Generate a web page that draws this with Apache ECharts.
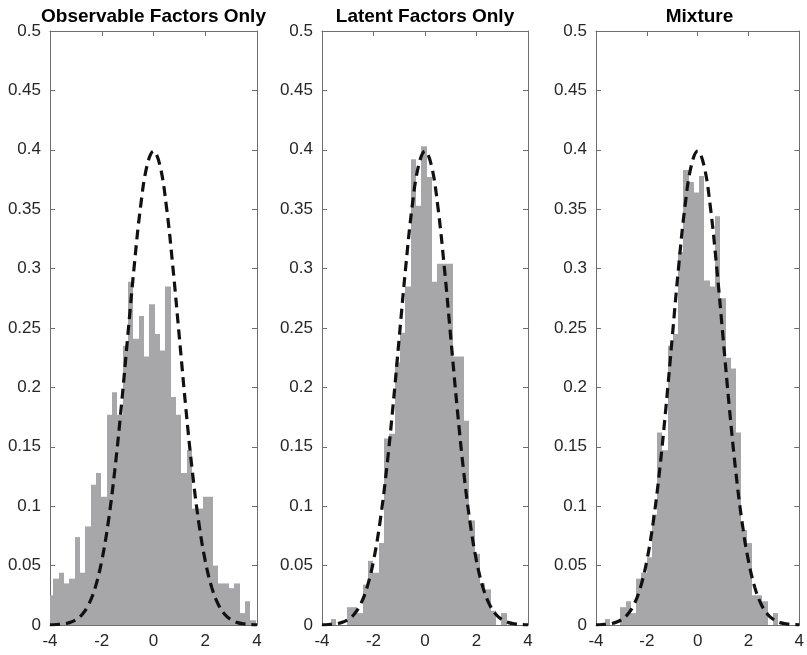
<!DOCTYPE html>
<html>
<head>
<meta charset="utf-8">
<script src="https://cdn.jsdelivr.net/npm/echarts@6/dist/echarts.min.js"></script>
<style>
  html, body { margin: 0; padding: 0; background: #ffffff; }
  #chart { width: 807px; height: 655px; }
</style>
</head>
<body>
<div id="chart"></div>
<script>
// Panel titles
const panelTitles = ['Observable Factors Only', 'Latent Factors Only', 'Mixture'];

// Axis ticks
const xTickValues = [-4, -2, 0, 2, 4];
const yTickValues = [0, 0.05, 0.1, 0.15, 0.2, 0.25, 0.3, 0.35, 0.4, 0.45, 0.5];

// Histogram of standardized estimates (pdf-normalized), observable factors only
const obsBinStart = -4.08;
const obsBinWidth = 0.206;
const obsHeights = [
  0.025, 0.039, 0.044, 0.035, 0.039, 0.074, 0.044, 0.083, 0.118, 0.128,
  0.108, 0.177, 0.196, 0.177, 0.235, 0.289, 0.241, 0.260, 0.226, 0.270,
  0.245, 0.231, 0.285, 0.192, 0.177, 0.128, 0.147, 0.098, 0.098, 0.108,
  0.108, 0.050, 0.035, 0.035, 0.031, 0.035, 0.010, 0.020, 0.004
];

// Latent factors only
const latBinStart = -3.664;
const latBinWidth = 0.207;
const latHeights = [
  0.005, 0, 0, 0.015, 0.015, 0.010, 0.034, 0.054, 0.044, 0.069,
  0.157, 0.161, 0.221, 0.246, 0.285, 0.392, 0.353, 0.403, 0.377, 0.289,
  0.304, 0.304, 0.304, 0.226, 0.226, 0.172, 0.088, 0.060, 0.035, 0.030,
  0.012, 0, 0.010
];

// Mixture of observable and latent factors
const mixBinStart = -3.664;
const mixBinWidth = 0.207;
const mixHeights = [
  0.005, 0, 0, 0.015, 0.020, 0.010, 0.039, 0.044, 0.057, 0.093,
  0.162, 0.147, 0.235, 0.245, 0.314, 0.383, 0.373, 0.364, 0.378, 0.290,
  0.285, 0.344, 0.275, 0.225, 0.216, 0.162, 0.080, 0.069, 0.025, 0.025,
  0.020, 0, 0.010
];

// Standard normal density reference curve
const curveX = [
  -4, -3.75, -3.5, -3.25, -3, -2.75, -2.5, -2.25, -2, -1.75, -1.5, -1.25, -1, -0.75, -0.5, -0.25,
  0, 0.25, 0.5, 0.75, 1, 1.25, 1.5, 1.75, 2, 2.25, 2.5, 2.75, 3, 3.25, 3.5, 3.75, 4
];
const curveY = [
  0.0001, 0.0004, 0.0009, 0.0020, 0.0044, 0.0091, 0.0175, 0.0317, 0.0540, 0.0863, 0.1295, 0.1826, 0.2420, 0.3011, 0.3521, 0.3867,
  0.3989, 0.3867, 0.3521, 0.3011, 0.2420, 0.1826, 0.1295, 0.0863, 0.0540, 0.0317, 0.0175, 0.0091, 0.0044, 0.0020, 0.0009, 0.0004, 0.0001
];

const panels = [
  { start: obsBinStart, width: obsBinWidth, heights: obsHeights },
  { start: latBinStart, width: latBinWidth, heights: latHeights },
  { start: mixBinStart, width: mixBinWidth, heights: mixHeights }
];

const FONT = "'Liberation Sans', Arial, Helvetica, sans-serif";
const BAR_COLOR = '#a7a7aa';
const AXIS_COLOR = '#6e6e6e';
const LABEL_COLOR = '#262626';

const gridLefts = [50, 322, 596];
const gridWidths = [207, 206, 207];
const gridTop = 31;
const gridHeight = 594;

// Each bin is a rectangle from [left, 0] to [right, height], snapped to whole pixels
// horizontally so neighbouring bins meet without seams.
function renderBin(params, api) {
  const x0 = api.value(0), x1 = api.value(1), h = api.value(2);
  if (!(h > 0)) return null;
  const p0 = api.coord([x0, h]);
  const p1 = api.coord([x1, 0]);
  const left = Math.round(p0[0]);
  const right = Math.round(p1[0]);
  const cs = params.coordSys;
  const rect = echarts.graphic.clipRectByRect(
    { x: left, y: p0[1], width: right - left, height: p1[1] - p0[1] },
    { x: cs.x, y: cs.y, width: cs.width, height: cs.height }
  );
  return rect && {
    type: 'rect',
    shape: rect,
    style: { fill: BAR_COLOR }
  };
}

const grids = [], xAxes = [], yAxes = [], series = [], graphics = [];
const xMin = xTickValues[0], xMax = xTickValues[xTickValues.length - 1];
const xStep = xTickValues[1] - xTickValues[0];
const yMin = yTickValues[0], yMax = yTickValues[yTickValues.length - 1];
const yStep = yTickValues[1] - yTickValues[0];

panels.forEach((p, i) => {
  grids.push({ left: gridLefts[i], width: gridWidths[i], top: gridTop, height: gridHeight });

  const axisLine = { show: true, onZero: false, lineStyle: { color: AXIS_COLOR, width: 1 } };
  const tick = { show: true, inside: true, length: 5, lineStyle: { color: AXIS_COLOR, width: 1 } };

  // bottom / top x axes
  xAxes.push({
    type: 'value', gridIndex: i, position: 'bottom', min: xMin, max: xMax, interval: xStep,
    axisLine, axisTick: tick, splitLine: { show: false },
    axisLabel: { show: true, color: LABEL_COLOR, fontSize: 17, fontFamily: FONT, margin: 8 }
  });
  xAxes.push({
    type: 'value', gridIndex: i, position: 'top', min: xMin, max: xMax, interval: xStep,
    axisLine, axisTick: tick, splitLine: { show: false }, axisLabel: { show: false }
  });
  // left / right y axes
  yAxes.push({
    type: 'value', gridIndex: i, position: 'left', min: yMin, max: yMax, interval: yStep,
    axisLine, axisTick: tick, splitLine: { show: false },
    axisLabel: {
      show: true, color: LABEL_COLOR, fontSize: 17, fontFamily: FONT, margin: 9,
      formatter: v => String(+v.toFixed(2))
    }
  });
  yAxes.push({
    type: 'value', gridIndex: i, position: 'right', min: yMin, max: yMax, interval: yStep,
    axisLine, axisTick: tick, splitLine: { show: false }, axisLabel: { show: false }
  });

  const bins = p.heights.map((h, k) => [p.start + k * p.width, p.start + (k + 1) * p.width, h]);
  series.push({
    type: 'custom',
    xAxisIndex: 2 * i, yAxisIndex: 2 * i,
    renderItem: renderBin,
    data: bins,
    z: 2,
    silent: true
  });
  series.push({
    type: 'line',
    xAxisIndex: 2 * i, yAxisIndex: 2 * i,
    data: curveX.map((x, k) => [x, curveY[k]]),
    smooth: 0.4,
    symbol: 'none',
    clip: true,
    lineStyle: { color: '#111111', width: 3.2, type: [10, 6] },
    z: 3,
    silent: true
  });

  graphics.push({
    type: 'text',
    x: gridLefts[i] + gridWidths[i] / 2,
    y: 16.5,
    style: {
      text: panelTitles[i],
      font: 'bold 19px ' + FONT,
      fill: '#000000',
      textAlign: 'center',
      textVerticalAlign: 'middle'
    }
  });
});

const chart = echarts.init(document.getElementById('chart'), null, { renderer: 'canvas' });
chart.setOption({
  animation: false,
  backgroundColor: '#ffffff',
  grid: grids,
  xAxis: xAxes,
  yAxis: yAxes,
  series: series,
  graphic: graphics
});
</script>
</body>
</html>
